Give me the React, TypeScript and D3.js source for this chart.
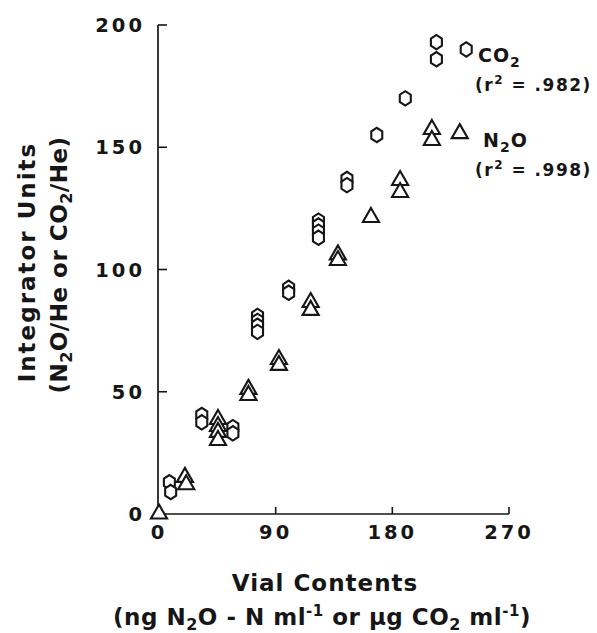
import React from 'react';
import * as d3 from 'd3';

// CO2 readings (hexagons): vial contents vs integrator units
const co2X = [8, 9, 33, 33, 57, 57, 76, 76, 76, 76, 100, 100, 123, 123, 123, 123, 145, 145, 168, 190, 214, 214, 237];
const co2Y = [13, 9, 40.5, 37.5, 35.5, 33, 81, 79, 77, 74.5, 92.5, 90.5, 120, 118, 115.5, 113, 137, 134.5, 155, 170, 193, 186, 190];

// N2O readings (triangles)
const n2oX = [0, 20, 21, 45.5, 45.5, 45.5, 45.5, 69, 69, 92.5, 92.5, 117, 117, 138, 138, 163.5, 186, 186, 210.5, 210.5, 232];
const n2oY = [1, 16, 13, 39.7, 36.8, 34.4, 31.1, 52, 49.5, 64.2, 61.8, 87.5, 84.3, 107, 104.7, 122.3, 137.4, 132.5, 158.3, 153.8, 156.6];

const xTicks = [0, 90, 180, 270];
const yTicks = [0, 50, 100, 150, 200];

const FONT = '"DejaVu Sans", "Liberation Sans", Arial, sans-serif';
const INK = '#161616';

const x = d3.scaleLinear().domain([0, 270]).range([159, 509]);
const y = d3.scaleLinear().domain([0, 200]).range([514, 25]);

// pointy-top hexagon
const hexagon = {
  draw(ctx: any, size: number) {
    const r = Math.sqrt(size);
    for (let i = 0; i < 6; i++) {
      const a = Math.PI / 2 + (i * Math.PI) / 3;
      const px = r * 0.88 * Math.cos(a);
      const py = r * Math.sin(a);
      if (i === 0) ctx.moveTo(px, py);
      else ctx.lineTo(px, py);
    }
    ctx.closePath();
  },
};

// triangle centred on its bounding box
const triangle = {
  draw(ctx: any, size: number) {
    const h = Math.sqrt(size);
    const w = h * 1.15;
    ctx.moveTo(0, -h / 2);
    ctx.lineTo(w / 2, h / 2);
    ctx.lineTo(-w / 2, h / 2);
    ctx.closePath();
  },
};

const hexPath = d3.symbol().type(hexagon as any).size(52)();
const triPath = d3.symbol().type(triangle as any).size(196)();

const byValue = (xs: number[], ys: number[]) =>
  xs.map((v, i) => ({ x: v, y: ys[i] })).sort((a, b) => b.y - a.y);

export default function App() {
  const co2 = byValue(co2X, co2Y);
  const n2o = byValue(n2oX, n2oY);
  return (
    <svg width={597} height={633} style={{ position: 'absolute', left: 0, top: 0, background: '#fff' }}
      fontFamily={FONT} fontWeight="bold" fill={INK}>
      {/* axes */}
      <line x1={x(0) - 1} x2={x(0) - 1} y1={y(200)} y2={y(0)} stroke={INK} strokeWidth={1.7} />
      <line x1={x(0) - 1} x2={x(270)} y1={y(0)} y2={y(0)} stroke={INK} strokeWidth={1.7} />
      {yTicks.filter((t) => t > 0).map((t) => (
        <line key={'yt' + t} x1={x(0) - 1} x2={x(0) + 8} y1={y(t)} y2={y(t)} stroke={INK} strokeWidth={1.6} />
      ))}
      {xTicks.filter((t) => t > 0).map((t) => (
        <line key={'xt' + t} x1={x(t)} x2={x(t)} y1={y(0)} y2={y(0) - 7} stroke={INK} strokeWidth={1.6} />
      ))}
      {yTicks.map((t) => (
        <text key={'yl' + t} x={145} y={y(t) + 7} textAnchor="end" fontSize={19.5} style={{ letterSpacing: '3px' }}>
          {t}
        </text>
      ))}
      {xTicks.map((t) => (
        <text key={'xl' + t} x={x(t)} y={539} textAnchor="middle" fontSize={19.5} style={{ letterSpacing: '3px' }}>
          {t}
        </text>
      ))}

      {/* axis titles */}
      <text x={325} y={591} textAnchor="middle" fontSize={23} style={{ letterSpacing: '1px' }}>
        Vial Contents
      </text>
      <text x={322} y={625} textAnchor="middle" fontSize={23} style={{ letterSpacing: '0.5px' }}>
        (ng N<tspan fontSize={16} dy={5}>2</tspan>
        <tspan dy={-5}>O - N ml</tspan>
        <tspan fontSize={15} dy={-9}>-1</tspan>
        <tspan dy={9}> or μg CO</tspan>
        <tspan fontSize={16} dy={5}>2</tspan>
        <tspan dy={-5}> ml</tspan>
        <tspan fontSize={15} dy={-9}>-1</tspan>
        <tspan dy={9}>)</tspan>
      </text>
      <text transform="translate(35,262) rotate(-90)" textAnchor="middle" fontSize={23} style={{ letterSpacing: '2px' }}>
        Integrator Units
      </text>
      <text transform="translate(67,265) rotate(-90)" textAnchor="middle" fontSize={23} style={{ letterSpacing: '0.5px' }}>
        (N<tspan fontSize={16} dy={5}>2</tspan>
        <tspan dy={-5}>O/He or CO</tspan>
        <tspan fontSize={16} dy={5}>2</tspan>
        <tspan dy={-5}>/He)</tspan>
      </text>

      {/* data */}
      {co2.map((d, i) => (
        <path key={'c' + i} d={hexPath || ''} transform={`translate(${x(d.x)},${y(d.y)})`}
          fill="#fff" stroke={INK} strokeWidth={2.1} />
      ))}
      {n2o.map((d, i) => (
        <path key={'n' + i} d={triPath || ''} transform={`translate(${x(d.x)},${y(d.y)})`}
          fill="#fff" stroke={INK} strokeWidth={2.1} />
      ))}

      {/* series labels */}
      <text x={478} y={62} fontSize={19} style={{ letterSpacing: '1px' }}>
        CO<tspan fontSize={14} dy={5}>2</tspan>
      </text>
      <text x={475} y={91} fontSize={17} style={{ letterSpacing: '1.5px' }}>
        (r<tspan fontSize={12} dy={-7}>2</tspan>
        <tspan dy={7}> = .982)</tspan>
      </text>
      <text x={483} y={147} fontSize={19} style={{ letterSpacing: '1px' }}>
        N<tspan fontSize={14} dy={5}>2</tspan>
        <tspan dy={-5}>O</tspan>
      </text>
      <text x={475} y={176} fontSize={17} style={{ letterSpacing: '1.5px' }}>
        (r<tspan fontSize={12} dy={-7}>2</tspan>
        <tspan dy={7}> = .998)</tspan>
      </text>
    </svg>
  );
}
